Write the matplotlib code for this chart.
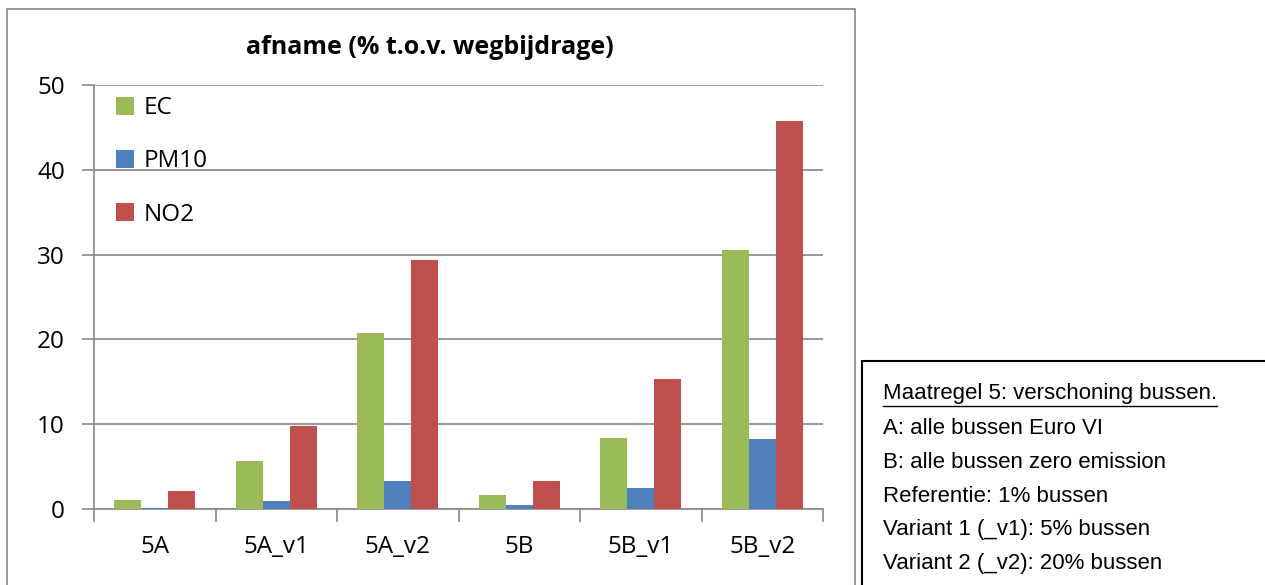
import matplotlib.pyplot as plt
import numpy as np
from matplotlib.patches import Rectangle

# Reduction per measure (% relative to road contribution)
categories = ['5A', '5A_v1', '5A_v2', '5B', '5B_v1', '5B_v2']
ec = [1.1, 5.7, 20.7, 1.7, 8.4, 30.6]
pm10 = [0.15, 0.9, 3.35, 0.45, 2.45, 8.25]
no2 = [2.1, 9.8, 29.4, 3.3, 15.3, 45.8]
series = [('EC', ec, '#9BBB59'), ('PM10', pm10, '#4F81BD'), ('NO2', no2, '#C0504D')]

notes = ['A: alle bussen Euro VI',
         'B: alle bussen zero emission',
         'Referentie: 1% bussen',
         'Variant 1 (_v1): 5% bussen',
         'Variant 2 (_v2): 20% bussen']

W, H = 1265, 585
fig = plt.figure(figsize=(W / 100, H / 100), dpi=100)
plt.rcParams['font.family'] = ['Open Sans', 'DejaVu Sans']

# chart frame
fig.patches.append(Rectangle((7 / W, -0.05), 848 / W, 1 - 9 / H + 0.05,
                             transform=fig.transFigure, fill=False,
                             edgecolor='#888888', linewidth=1.2))

ax = fig.add_axes([94 / W, 1 - 509 / H, (823 - 94) / W, (509 - 85) / H])
x = np.arange(len(categories))
bw = 0.222
for i, (name, vals, col) in enumerate(series):
    ax.bar(x + (i - 1) * bw, vals, bw, color=col, label=name, zorder=3)

ax.set_xlim(-0.5, len(categories) - 0.5)
ax.set_ylim(0, 50)
ax.set_yticks(range(0, 51, 10))
ax.yaxis.grid(True, color='#888888', linewidth=1.2, zorder=0)
ax.set_xticks(x)
ax.set_xticklabels(categories, fontsize=17.5)
ax.set_xticks(np.arange(-0.5, len(categories)), minor=True)
ax.tick_params(axis='x', which='major', length=0, pad=19)
ax.tick_params(axis='x', which='minor', length=9, color='#888888', width=1.2)
ax.tick_params(axis='y', labelsize=17.5, length=9, color='#888888', width=1.2, pad=12)
for s in ['top', 'right']:
    ax.spines[s].set_visible(False)
for s in ['left', 'bottom']:
    ax.spines[s].set_color('#888888')
    ax.spines[s].set_linewidth(1.2)

fig.text(430 / W, 1 - 47 / H, 'afname (% t.o.v. wegbijdrage)', fontsize=18,
         fontweight='bold', ha='center', va='center')

ax.legend(loc='upper left', bbox_to_anchor=(0.0, 1.025), frameon=False,
          fontsize=17.5, handlelength=0.75, handleheight=0.75, labelspacing=1.2,
          handletextpad=0.4)

# notes box
fig.patches.append(Rectangle((862 / W, -0.05), 500 / W, 1 - 361 / H + 0.05,
                             transform=fig.transFigure, fill=False,
                             edgecolor='black', linewidth=1.5))
ty = 394
t = fig.text(883 / W, 1 - ty / H, 'Maatregel 5: verschoning bussen.',
             fontsize=16, family='Liberation Sans', va='center')
fig.canvas.draw()
bb = t.get_window_extent()
fig.add_artist(plt.Line2D([bb.x0 / W, bb.x1 / W], [(bb.y0 - 1) / H] * 2,
                          transform=fig.transFigure, color='black', linewidth=1))
for k, line in enumerate(notes):
    fig.text(883 / W, 1 - (ty + 34 * (k + 1)) / H, line, fontsize=16,
             family='Liberation Sans', va='center')

fig.savefig('out.png', dpi=100)
